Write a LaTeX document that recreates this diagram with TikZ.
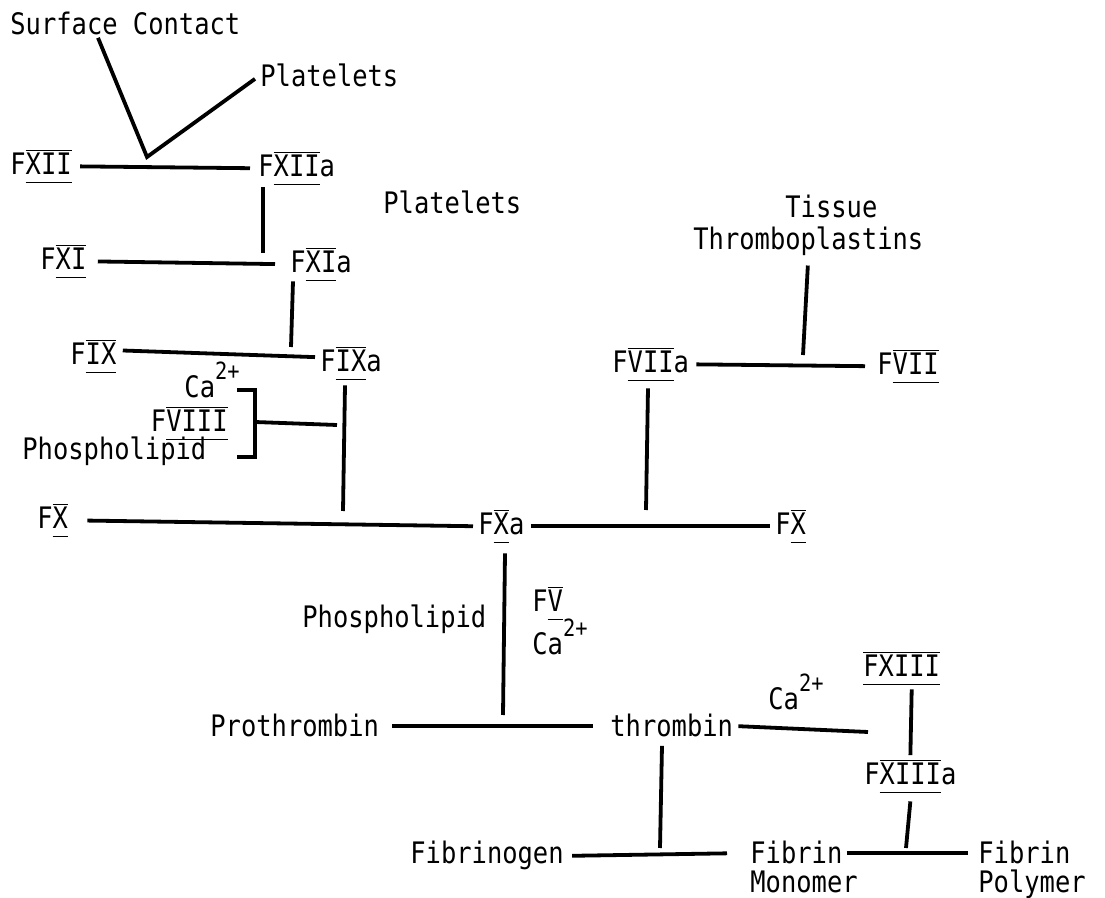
\documentclass[tikz,border=0pt]{standalone}
\usepackage{fontspec}
\setmainfont{DejaVu Sans Mono}[FakeStretch=0.86]
\usetikzlibrary{calc}

% Roman numeral with bars over and under
\newcommand{\rn}[1]{\begingroup\setbox0\hbox{#1}%
  \rlap{\raisebox{-4pt}{\rule{\wd0}{0.7pt}}}%
  \rlap{\raisebox{12pt}{\rule{\wd0}{0.7pt}}}\box0\endgroup}
% calcium ion
\newcommand{\cion}{Ca\raisebox{9pt}{\scalebox{0.8}{2+}}}

\begin{document}
\begin{tikzpicture}[
        x=0.5pt, y=-0.5pt,
        % Styles for labels and connecting lines
        every node/.style={inner sep=0pt, font=\fontsize{14.8}{17}\selectfont},
        lbl/.style={anchor=base west},
        lblr/.style={anchor=base east},
        link/.style={line width=1.9pt}
    ]
        \useasboundingbox (0,0) rectangle (1105,898);

        % 1. Labels, intrinsic path
        \node[lbl] (sc) at (10,35) {Surface Contact};
        \node[lbl] (plt1) at (260,87) {Platelets};
        \node[lbl] (fxii) at (10,175) {F\rn{XII}};
        \node[lbl] (fxiia) at (258,177) {F\rn{XII}a};
        \node[lbl] (plt2) at (383,214) {Platelets};
        \node[lbl] (fxi) at (40,270) {F\rn{XI}};
        \node[lbl] (fxia) at (290,273) {F\rn{XI}a};
        \node[lbl] (fix) at (70,365) {F\rn{IX}};
        \node[lbl] (fixa) at (320,372) {F\rn{IX}a};
        \node[lblr] (ca1) at (240,398) {\cion};
        \node[lblr] (fviii) at (228,432) {F\rn{VIII}};
        \node[lbl] (phos1) at (22,460) {Phospholipid};

        % 2. Labels, extrinsic path
        \node[lbl] (tissue) at (785,218) {Tissue};
        \node[lbl] (thrombo) at (693,250) {Thromboplastins};
        \node[lbl] (fviia) at (612,373) {F\rn{VII}a};
        \node[lbl] (fvii) at (877,375) {F\rn{VII}};

        % 3. Labels, common path
        \node[lbl] (fx1) at (37,529) {F\rn{X}};
        \node[lbl] (fxa) at (478,535) {F\rn{X}a};
        \node[lbl] (fx2) at (775,535) {F\rn{X}};
        \node[lbl] (phos2) at (302,628) {Phospholipid};
        \node[lbl] (fv) at (532,612) {F\rn{V}};
        \node[lbl] (ca2) at (532,655) {\cion};
        \node[lbl] (prothr) at (210,737) {Prothrombin};
        \node[lbl] (thr) at (610,737) {thrombin};
        \node[lbl] (ca3) at (768,710) {\cion};
        \node[lbl] (fxiii) at (863,677) {\rn{FXIII}};
        \node[lbl] (fxiiia) at (864,785) {F\rn{XIII}a};
        \node[lbl] (fbg) at (410,864) {Fibrinogen};
        \node[lbl] (fib) at (750,864) {Fibrin};
        \node[lbl] (mono) at (750,893) {Monomer};
        \node[lbl] (fibp) at (978,864) {Fibrin};
        \node[lbl] (poly) at (978,893) {Polymer};

        % 4. Junction points on the reaction lines
        \coordinate (scv) at (147,157);
        \coordinate (r11) at (263,253);
        \coordinate (r9) at (291,347);
        \coordinate (bk) at (237,390);
        \coordinate (bkm) at (255,422);
        \coordinate (r10m) at (337,425);
        \coordinate (r10) at (343,511);
        \coordinate (r7) at (803,355);
        \coordinate (rx) at (646,510);
        \coordinate (rpt) at (503,715);
        \coordinate (r13) at (868,732);
        \coordinate (rfm) at (660,848);
        \coordinate (rfp) at (906,848);

        % 5. Reactions (horizontal) and activators (vertical)
        \draw[link] ($(sc.south west)+(88,2)$) -- (scv) -- ($(plt1.west)+(-5,3)$);
        \draw[link, shorten <=4pt, shorten >=4pt] (fxii.east) -- (fxiia.west);
        \draw[link] ($(fxiia.south west)+(5,2)$) -- (r11);
        \draw[link, shorten <=5.5pt, shorten >=7.5pt] (fxi.east) -- (fxia.west);
        \draw[link] ($(fxia.south west)+(3,0)$) -- (r9);
        \draw[link, shorten <=3pt, shorten >=2.5pt] ([yshift=3pt]fix.east) -- ([yshift=3pt]fixa.west);
        \draw[link] (bk) -- ++(18,0) -- ++(0,67) -- ++(-18,0);
        \draw[link] (bkm) -- (r10m);
        \draw[link] ($(fixa.south west)+(25,5)$) -- (r10);
        \draw[link, shorten <=9.5pt, shorten >=2.5pt] (fx1.east) -- (fxa.west);
        \draw[link, shorten <=3pt, shorten >=2.5pt] (fxa.east) -- (fx2.west);
        \draw[link, shorten <=4.5pt] (thrombo.south) -- (r7);
        \draw[link, shorten <=3.5pt, shorten >=6pt] (fviia.east) -- (fvii.west);
        \draw[link] ($(fviia.south west)+(36,7)$) -- (rx);
        \draw[link] ($(fxa.south west)+(27,10)$) -- (rpt);
        \draw[link, shorten <=6.5pt, shorten >=8.5pt] (prothr.east) -- (thr.west);
        \draw[link, shorten <=2.5pt] (thr.east) -- (r13);
        \draw[link] ([xshift=5pt,yshift=-2pt]fxiii.south) -- ([yshift=2pt]fxiiia.north);
        \draw[link] ([yshift=-4pt]fxiiia.south) -- (rfp);
        \draw[link] ($(thr.south west)+(52,8)$) -- (rfm);
        \draw[link, shorten <=4pt, shorten >=11.5pt] (fbg.east) -- (fib.west);
        \draw[link, shorten <=2pt, shorten >=5pt] (fib.east) -- (fibp.west);

    \end{tikzpicture}
\end{document}
